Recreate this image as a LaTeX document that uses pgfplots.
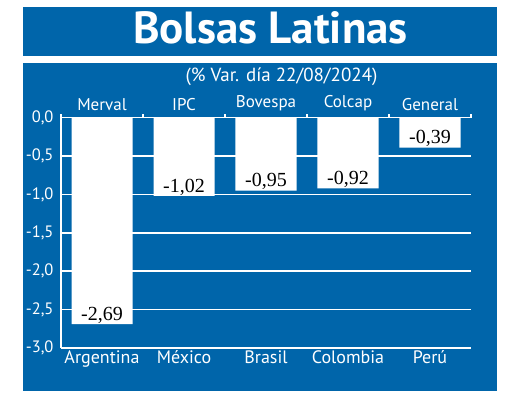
\documentclass[border=0pt]{standalone}
\usepackage{pgfplots}
\pgfplotsset{compat=1.18}
\usepackage{fontspec}
\setmainfont{PT Sans}
\newfontfamily\valfont{Liberation Serif}
\definecolor{bolsablue}{RGB}{0,101,170}

\begin{document}
\begin{tikzpicture}[x=1pt,y=1pt]
  % page and the two blue panels
  \fill[white] (0,0) rectangle (520,409);
  \fill[bolsablue] (23,353) rectangle (497,402);
  \fill[bolsablue] (23,18) rectangle (497,346);
  \node[white, font=\fontsize{45}{50}\selectfont\bfseries, anchor=base] at (270.5,365) {Bolsas Latinas};
  \node[white, font=\fontsize{19}{21}\selectfont, anchor=base] at (281.5,327) {(\% Var. día 22/08/2024)};

  \begin{axis}[
    at={(61pt,61pt)}, anchor=south west,
    scale only axis, width=410pt, height=230.4pt,
    xmin=-0.5, xmax=4.5, ymin=-3, ymax=0,
    axis line style={draw=none},
    major tick length=0pt,
    xtick={0,1,2,3,4},
    xticklabels={Argentina,México,Brasil,Colombia,Perú},
    ytick={-3,-2.5,-2,-1.5,-1,-0.5,0},
    ymajorgrids,
    grid style={white, line width=1.5pt},
    ticklabel style={white},
    xticklabel style={font=\fontsize{18}{20}\selectfont, yshift=1pt},
    yticklabel style={font=\fontsize{16.5}{18}\selectfont, xshift=-4pt},
    y tick label style={/pgf/number format/.cd, use comma, fixed, fixed zerofill, precision=1},
    /pgf/number format/assume math mode=true,
    clip=false,
  ]
    \addplot[ybar, bar width=61pt, fill=white, draw=none,
      nodes near coords,
      nodes near coords style={anchor=south, black, inner sep=0.5pt,
        font=\valfont\fontsize{20}{22}\selectfont,
        /pgf/number format/.cd, use comma, fixed, fixed zerofill, precision=2},
    ] coordinates {(0,-2.69) (1,-1.02) (2,-0.95) (3,-0.92) (4,-0.39)};
    % left frame line and the short ticks above the zero line
    \draw[white, line width=1.5pt] (axis cs:-0.5,-3) -- ([yshift=4pt]axis cs:-0.5,0);
    \pgfplotsinvokeforeach{0.5,1.5,2.5,3.5,4.5}{
      \draw[white, line width=1.5pt] (axis cs:#1,0) -- ([yshift=4pt]axis cs:#1,0);
    }
  \end{axis}

  \begin{axis}[
    at={(61pt,61pt)}, anchor=south west,
    scale only axis, width=410pt, height=230.4pt,
    xmin=-0.5, xmax=4.5, ymin=-3, ymax=0,
    axis line style={draw=none},
    major tick length=0pt,
    xtick={0,1,2,3,4},
    xticklabels={Merval,IPC,Bovespa,Colcap,General},
    xticklabel pos=upper,
    ytick=\empty,
    ticklabel style={white, font=\fontsize{17}{19}\selectfont, yshift=3pt},
  ]
  \end{axis}
\end{tikzpicture}
\end{document}
